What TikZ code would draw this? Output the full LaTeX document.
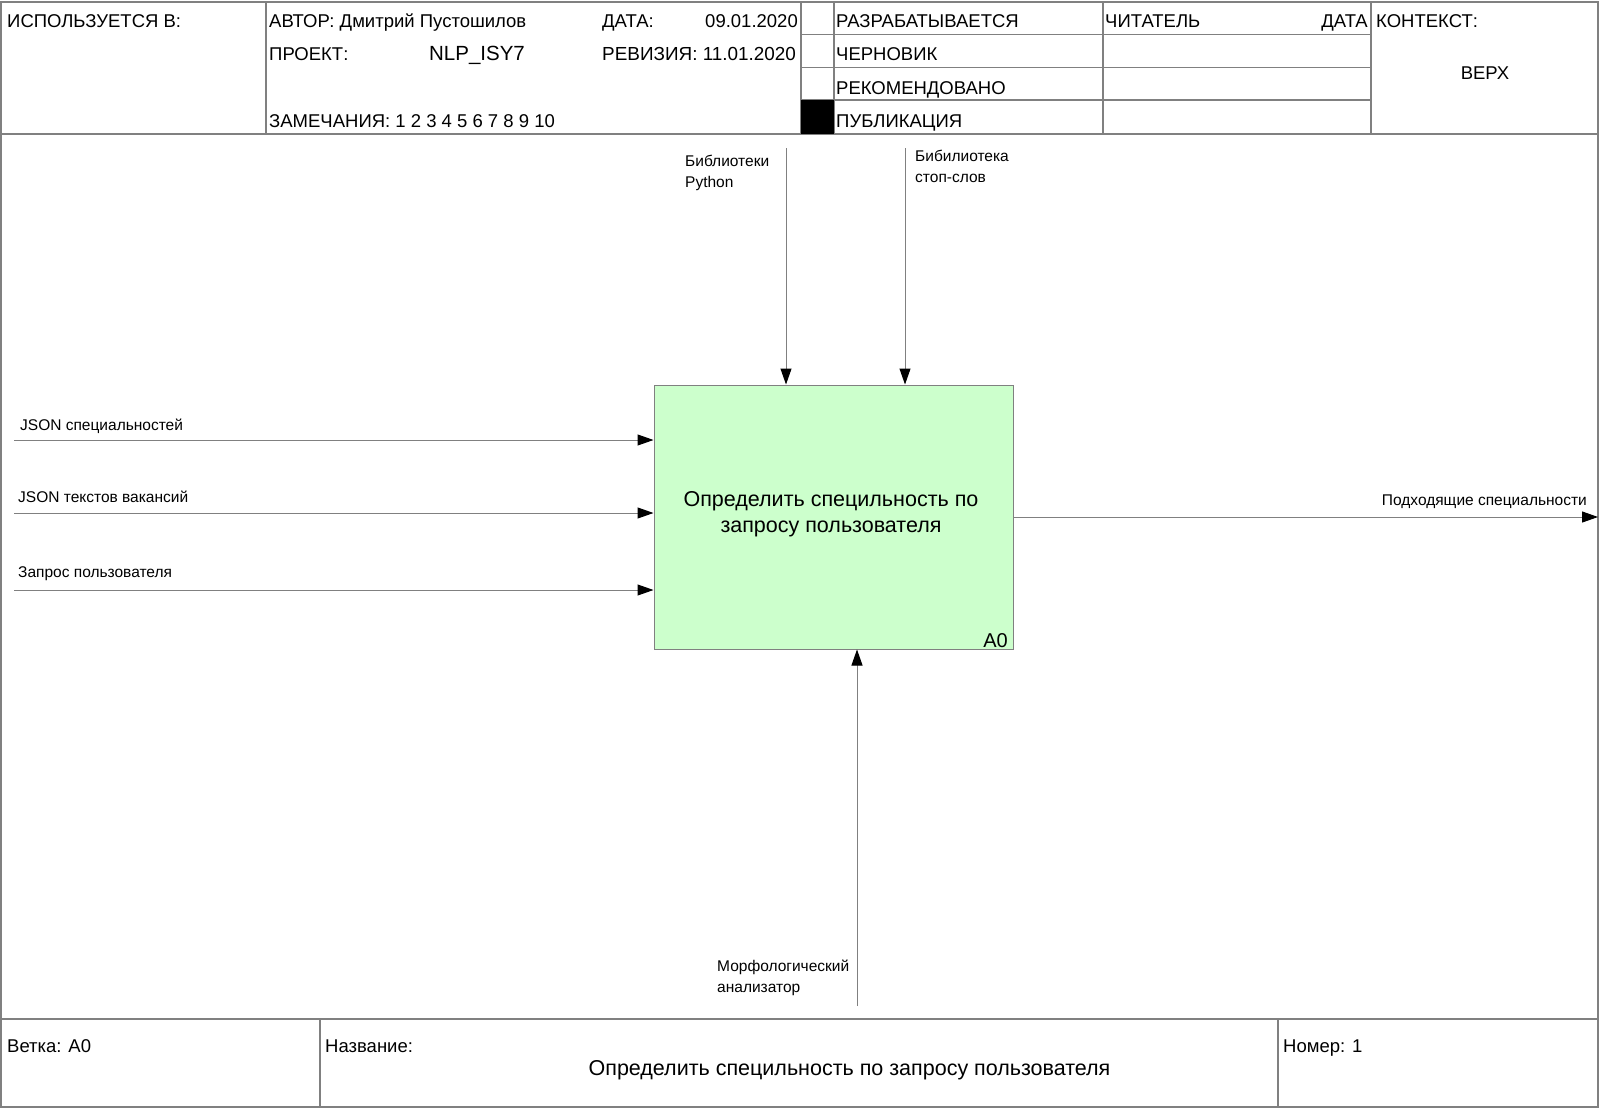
\documentclass[tikz,border=0pt]{standalone}
\usepackage{fontspec}
\setmainfont{Liberation Sans}
\usetikzlibrary{arrows.meta,calc}
\definecolor{linegray}{HTML}{808080}
\definecolor{boxgreen}{HTML}{CCFFCC}
\begin{document}
\begin{tikzpicture}[x=1pt,y=-1pt,
  frame/.style={draw=linegray,line width=1.2pt},
  hdr/.style={font=\fontsize{18.5}{22}\selectfont, inner sep=0pt, anchor=base west},
  lbl/.style={font=\fontsize{15.5}{20.5}\selectfont, inner sep=0pt, anchor=base west, align=left},
  ttl/.style={font=\fontsize{21.5}{25.5}\selectfont, inner sep=0pt, align=center},
  arr/.style={draw=linegray, line width=1pt, -{Triangle[length=16pt,width=11pt,color=black]}},
  box/.style={draw=linegray, fill=boxgreen, line width=1pt, minimum width=359pt, minimum height=264pt, inner sep=0pt}
]
\useasboundingbox (0,0) rectangle (1600,1108);
\fill[white] (0,0) rectangle (1600,1108);
% outer frame and grid
\draw[frame] (1,2) rectangle (1598,1107);
\draw[frame] (1,134) -- (1598,134);
\draw[frame] (1,1019) -- (1598,1019);
\foreach \x in {266,801,834,1103,1371} \draw[frame] (\x,2) -- (\x,134);
\foreach \y in {34.7,67.3,100} \draw[frame] (801,\y) -- (1371,\y);
\foreach \x in {320,1278} \draw[frame] (\x,1019) -- (\x,1107);
\fill[black] (801,100) rectangle (834,134);
% header texts
\node[hdr] (usedin) at (7,28) {ИСПОЛЬЗУЕТСЯ В:};
\node[hdr] (author) at (269,28) {АВТОР: Дмитрий Пустошилов};
\node[hdr] (datel) at (602,28) {ДАТА:};
\node[hdr,anchor=base east] (datev) at (798,28) {09.01.2020};
\node[hdr] (proj) at (269,61) {ПРОЕКТ:};
\node[hdr,anchor=base,font=\fontsize{20.5}{24}\selectfont] (projv) at (477,61) {NLP\_ISY7};
\node[hdr,font=\fontsize{18.9}{22}\selectfont] (rev) at (602,61) {РЕВИЗИЯ: 11.01.2020};
\node[hdr] (notes) at (269,127) {ЗАМЕЧАНИЯ: 1 2 3 4 5 6 7 8 9 10};
\node[hdr] (s1) at (836,28) {РАЗРАБАТЫВАЕТСЯ};
\node[hdr] (s2) at (836,61) {ЧЕРНОВИК};
\node[hdr] (s3) at (836,94) {РЕКОМЕНДОВАНО};
\node[hdr] (s4) at (836,127) {ПУБЛИКАЦИЯ};
\node[hdr] (reader) at (1105,28) {ЧИТАТЕЛЬ};
\node[hdr,anchor=base east] (rdate) at (1368,28) {ДАТА};
\node[hdr] (ctx) at (1376,28) {КОНТЕКСТ:};
\node[hdr,anchor=base] (ctxv) at (1485,79) {ВЕРХ};
% footer texts
\node[hdr] (branch) at (7,1052) {Ветка: A0};
\node[hdr] (namel) at (325,1052) {Название:};
\node[hdr] (num) at (1283,1052) {Номер: 1};
\node[ttl,anchor=base] (namev) at (849.5,1075) {Определить специльность по запросу пользователя};
% activity box
\node[box] (A0) at (833.5,517) {};
\node[ttl] (A0title) at (831,514) {Определить специльность по\\запросу пользователя};
\node[hdr,anchor=base east,font=\fontsize{20}{22}\selectfont] (A0num) at (1008,647) {A0};
% free ends
\coordinate (in1) at (14,440);
\coordinate (in2) at (14,513);
\coordinate (in3) at (14,590);
\coordinate (c1) at (786,148);
\coordinate (c2) at (905,148);
\coordinate (m1) at (857,1006);
\coordinate (o1) at (1598,517);
% connectors
\draw[arr] (in1) -- (in1 -| A0.west);
\draw[arr] (in2) -- (in2 -| A0.west);
\draw[arr] (in3) -- (in3 -| A0.west);
\draw[arr] (c1) -- (c1 |- A0.north);
\draw[arr] (c2) -- (c2 |- A0.north);
\draw[arr] (m1) -- (m1 |- A0.south);
\draw[arr] (A0.east) -- (o1);
% labels
\node[lbl] (l1) at (20,430) {JSON специальностей};
\node[lbl] (l2) at (18,502) {JSON текстов вакансий};
\node[lbl] (l3) at (18,577) {Запрос пользователя};
\node[lbl] (lc1) at (685,187) {Библиотеки\\Python};
\node[lbl] (lc2) at (915,182) {Бибилиотека\\стоп-слов};
\node[lbl] (lm1) at (717,992) {Морфологический\\анализатор};
\node[lbl,anchor=base east] (lo1) at (1587,505) {Подходящие специальности};
\end{tikzpicture}
\end{document}
